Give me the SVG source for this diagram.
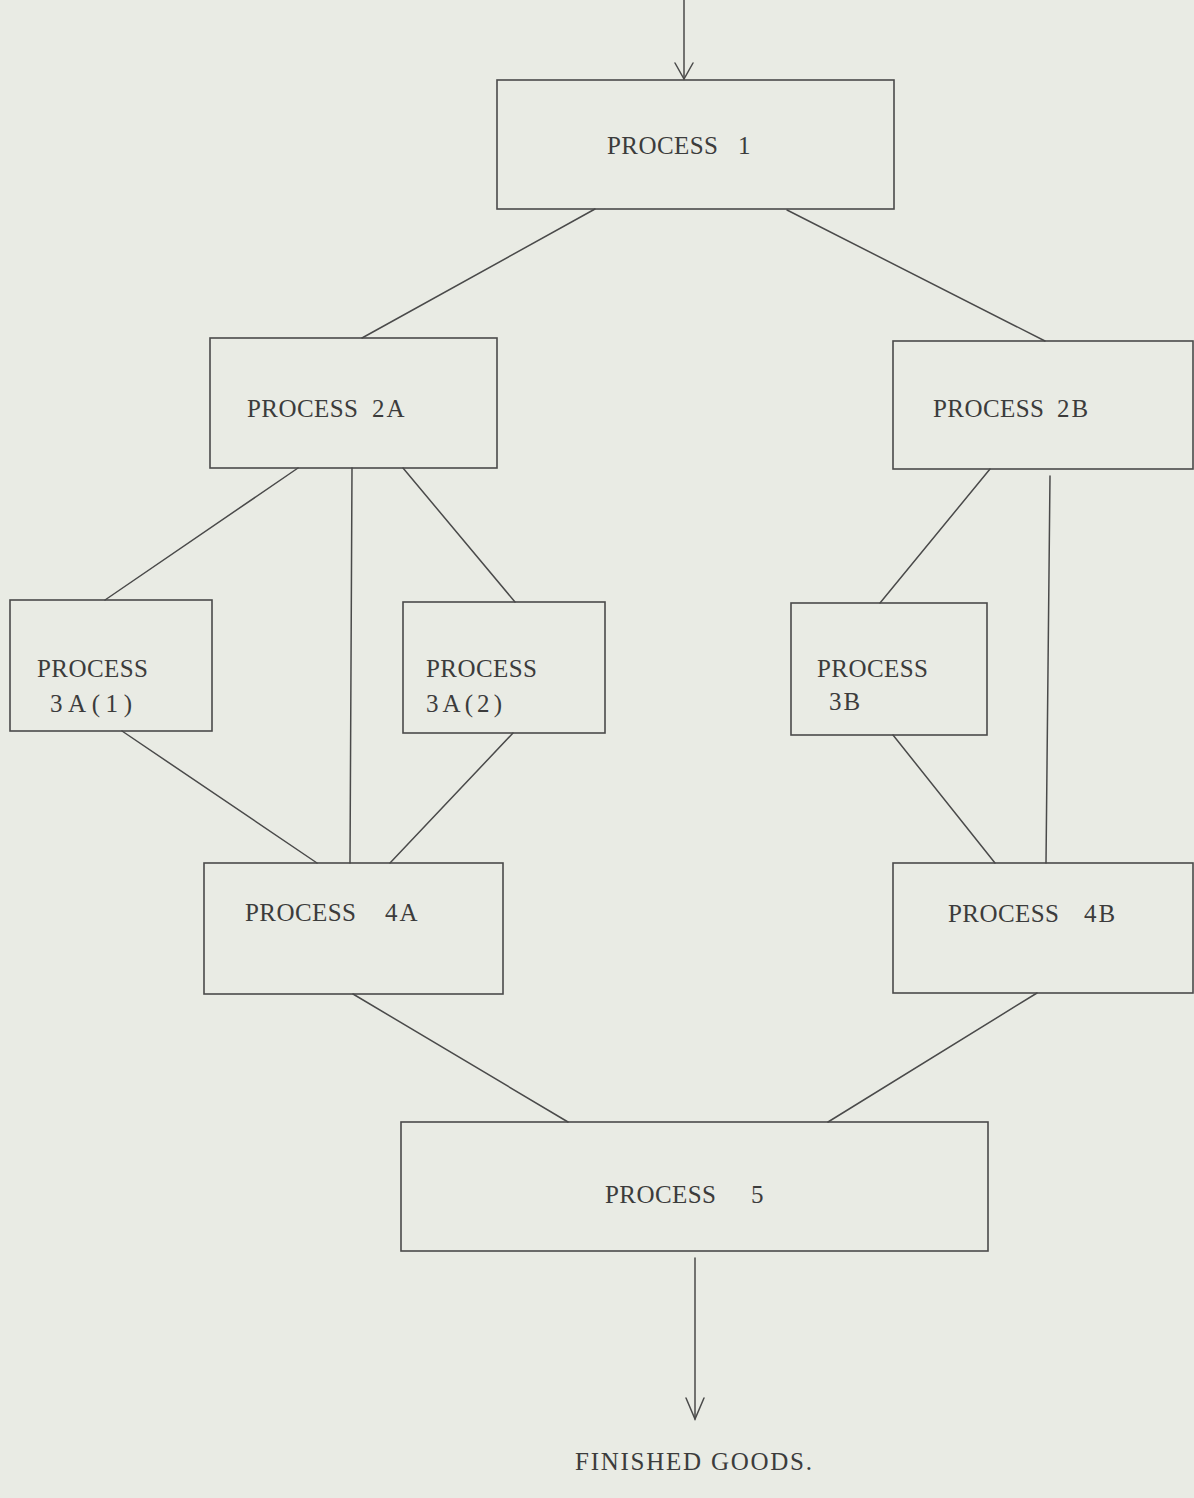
<svg xmlns="http://www.w3.org/2000/svg" width="1194" height="1498" viewBox="0 0 1194 1498">
<style>
.bg{fill:#e9ebe4}
.box{fill:none;stroke:#4a4a4a;stroke-width:1.6}
.ln{fill:none;stroke:#4a4a4a;stroke-width:1.5;stroke-linecap:round}
.t{font-family:"Liberation Serif","Times New Roman",serif;font-size:25px;fill:#3c3c3c}
.id{letter-spacing:2px}
</style>
<rect class="bg" x="0" y="0" width="1194" height="1498"/>
<g id="connectors">
<path class="ln" d="M684,0 L684,79"/>
<path class="ln" d="M675,63 L684,79 L693,63"/>
<path class="ln" d="M595,209 L362,338"/>
<path class="ln" d="M787,210 L1045,341"/>
<path class="ln" d="M298,468 L105,600"/>
<path class="ln" d="M352,468 L350,863"/>
<path class="ln" d="M403,468 L515,602"/>
<path class="ln" d="M990,469 L880,603"/>
<path class="ln" d="M1050,476 L1046,863"/>
<path class="ln" d="M122,731 L317,863"/>
<path class="ln" d="M513,733 L390,863"/>
<path class="ln" d="M893,735 L995,863"/>
<path class="ln" d="M353,994 L568,1122"/>
<path class="ln" d="M1037,993 L828,1122"/>
<path class="ln" d="M695,1258 L695,1419"/>
<path class="ln" d="M686,1398 L695,1419 L704,1398"/>
</g>
<g id="p1">
<rect class="box" x="497" y="80" width="397" height="129"/>
<text class="t" x="607" y="154" textLength="111" lengthAdjust="spacing">PROCESS</text>
<text class="t" x="738" y="154">1</text>
</g>
<g id="p2a">
<rect class="box" x="210" y="338" width="287" height="130"/>
<text class="t" x="247" y="417" textLength="111" lengthAdjust="spacing">PROCESS</text>
<text class="t id" x="372" y="417">2A</text>
</g>
<g id="p2b">
<rect class="box" x="893" y="341" width="300" height="128"/>
<text class="t" x="933" y="417" textLength="111" lengthAdjust="spacing">PROCESS</text>
<text class="t id" x="1057" y="417">2B</text>
</g>
<g id="p3a1">
<rect class="box" x="10" y="600" width="202" height="131"/>
<text class="t" x="37" y="677" textLength="111" lengthAdjust="spacing">PROCESS</text>
<text class="t" x="50" y="712" textLength="82" lengthAdjust="spacing">3A(1)</text>
</g>
<g id="p3a2">
<rect class="box" x="403" y="602" width="202" height="131"/>
<text class="t" x="426" y="677" textLength="111" lengthAdjust="spacing">PROCESS</text>
<text class="t" x="426" y="712" textLength="76" lengthAdjust="spacing">3A(2)</text>
</g>
<g id="p3b">
<rect class="box" x="791" y="603" width="196" height="132"/>
<text class="t" x="817" y="677" textLength="111" lengthAdjust="spacing">PROCESS</text>
<text class="t id" x="829" y="710">3B</text>
</g>
<g id="p4a">
<rect class="box" x="204" y="863" width="299" height="131"/>
<text class="t" x="245" y="921" textLength="111" lengthAdjust="spacing">PROCESS</text>
<text class="t id" x="385" y="921">4A</text>
</g>
<g id="p4b">
<rect class="box" x="893" y="863" width="300" height="130"/>
<text class="t" x="948" y="922" textLength="111" lengthAdjust="spacing">PROCESS</text>
<text class="t id" x="1084" y="922">4B</text>
</g>
<g id="p5">
<rect class="box" x="401" y="1122" width="587" height="129"/>
<text class="t" x="605" y="1203" textLength="111" lengthAdjust="spacing">PROCESS</text>
<text class="t" x="751" y="1203">5</text>
</g>
<g id="finished">
<text class="t" x="575" y="1470" textLength="237" lengthAdjust="spacing">FINISHED GOODS.</text>
</g>
</svg>
